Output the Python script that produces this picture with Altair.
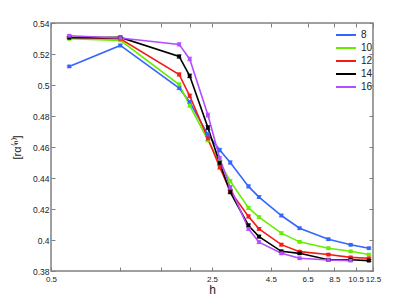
import altair as alt
import pandas as pd

h = [0.6, 1.0, 1.8, 2.0, 2.4, 2.7, 3.0, 3.6, 4.0, 5.0, 6.0, 8.0, 10.0, 12.0]

series = ["8", "10", "12", "14", "16"]
colors = ["#3366ff", "#66ee00", "#f51a1a", "#000000", "#b44cff"]

r8 = [0.512, 0.5255, 0.498, 0.489, 0.468, 0.458, 0.450, 0.4346, 0.4277, 0.4158, 0.4076, 0.4005, 0.3969, 0.3947]
r10 = [0.5298, 0.5288, 0.5003, 0.4868, 0.4645, 0.450, 0.438, 0.4207, 0.4147, 0.4044, 0.3988, 0.3947, 0.3927, 0.3906]
r12 = [0.5308, 0.5298, 0.5068, 0.493, 0.4655, 0.447, 0.4315, 0.4152, 0.4072, 0.397, 0.3925, 0.3906, 0.3888, 0.3882]
r14 = [0.5305, 0.5307, 0.5184, 0.5059, 0.4725, 0.4497, 0.4309, 0.4094, 0.4022, 0.3927, 0.3914, 0.3873, 0.3873, 0.3867]
r16 = [0.5318, 0.5303, 0.5262, 0.5168, 0.4806, 0.4527, 0.434, 0.4072, 0.3986, 0.3914, 0.3882, 0.3871, 0.3867]

e8 = [0.0006, 0.0008, 0.0010, 0.0010, 0.0012, 0.0012, 0.0010, 0.0010, 0.0009, 0.0008, 0.0007, 0.0007, 0.0006, 0.0006]
e10 = [0.0006, 0.0008, 0.0010, 0.0012, 0.0012, 0.0012, 0.0011, 0.0010, 0.0009, 0.0008, 0.0007, 0.0007, 0.0006, 0.0006]
e12 = [0.0006, 0.0008, 0.0010, 0.0012, 0.0013, 0.0013, 0.0011, 0.0010, 0.0009, 0.0008, 0.0007, 0.0007, 0.0006, 0.0006]
e14 = [0.0006, 0.0008, 0.0010, 0.0012, 0.0013, 0.0013, 0.0011, 0.0010, 0.0009, 0.0008, 0.0007, 0.0007, 0.0006, 0.0006]
e16 = [0.0006, 0.0008, 0.0010, 0.0012, 0.0013, 0.0013, 0.0011, 0.0010, 0.0009, 0.0008, 0.0007, 0.0007, 0.0006]

x_ticks = [0.5, 1, 1.5, 2, 2.5, 4.5, 6.5, 8.5, 10.5, 12.5]
x_labelled = [0.5, 2.5, 4.5, 6.5, 8.5, 10.5, 12.5]
y_ticks = [0.38, 0.40, 0.42, 0.44, 0.46, 0.48, 0.50, 0.52, 0.54]

rows = []
for name, vals, errs in zip(series, [r8, r10, r12, r14, r16], [e8, e10, e12, e14, e16]):
    for i, (v, e) in enumerate(zip(vals, errs)):
        rows.append({"L": name, "h": h[i], "r": v, "lo": v - e, "hi": v + e, "i": i})
df = pd.DataFrame(rows)

W, H = 322, 248

label_expr = "indexof([" + ",".join(str(v) for v in x_labelled) + "], datum.value) >= 0 ? datum.label : ''"

xaxis = alt.Axis(
    values=x_ticks, labelExpr=label_expr, format="~g", title="h",
    grid=True, gridColor="#808080", gridWidth=1, gridDash=[4, H - 8, 4, 2000],
    ticks=False, domain=False, labelOverlap=False, labelBound=False, labelFlush=False,
    labelFontSize=8, labelPadding=4, titleFontSize=12, titleFontWeight="normal",
    titlePadding=1, labelColor="#222222", titleColor="#222222",
    labelFont="Liberation Sans", titleFont="Liberation Sans",
)
yaxis = alt.Axis(
    values=y_ticks, format=".2~f", title="[rα⁽ⁿ⁾]",
    grid=True, gridColor="#808080", gridWidth=1, gridDash=[4, W - 8, 4, 2000],
    ticks=False, domain=False, labelOverlap=False, labelFlush=False,
    labelFontSize=8.5, labelPadding=2, titleFontSize=11, titleFontWeight="normal",
    titlePadding=10, labelColor="#222222", titleColor="#222222",
    labelFont="Liberation Sans", titleFont="Liberation Sans",
)

xenc = alt.X("h:Q", scale=alt.Scale(type="log", domain=[0.5, 12.5], nice=False), axis=xaxis)
cscale = alt.Scale(domain=series, range=colors)

lines = alt.Chart(df).mark_line(strokeWidth=1.6).encode(
    x=xenc,
    y=alt.Y("r:Q", scale=alt.Scale(domain=[0.38, 0.54], nice=False, zero=False), axis=yaxis),
    color=alt.Color("L:N", scale=cscale, sort=series, legend=alt.Legend(
        title=None, orient="none", legendX=289, legendY=6,
        symbolType="M-2,0H2", symbolSize=100, symbolStrokeWidth=2,
        labelOffset=9, labelFontSize=10, labelFont="Liberation Sans", labelColor="#222222",
        rowPadding=2, padding=0,
    )),
    order="i:Q",
)

bars = alt.Chart(df).mark_errorbar(ticks=True, size=5, thickness=1).encode(
    x=xenc,
    y=alt.Y("lo:Q", scale=alt.Scale(domain=[0.38, 0.54], nice=False, zero=False), axis=yaxis),
    y2="hi:Q",
    color=alt.Color("L:N", scale=cscale, sort=series, legend=None),
)

pts = alt.Chart(df).mark_point(shape="square", filled=True, size=14, opacity=1).encode(
    x=xenc,
    y=alt.Y("r:Q", scale=alt.Scale(domain=[0.38, 0.54], nice=False, zero=False), axis=yaxis),
    color=alt.Color("L:N", scale=cscale, sort=series, legend=None),
)

chart = alt.layer(lines, bars, pts).properties(
    width=W, height=H,
    padding={"left": 3, "top": 11, "right": 5, "bottom": 5},
).configure_view(stroke="#808080", strokeWidth=1.5)

chart.save("out.html", embed_options={"renderer": "svg", "actions": False})
